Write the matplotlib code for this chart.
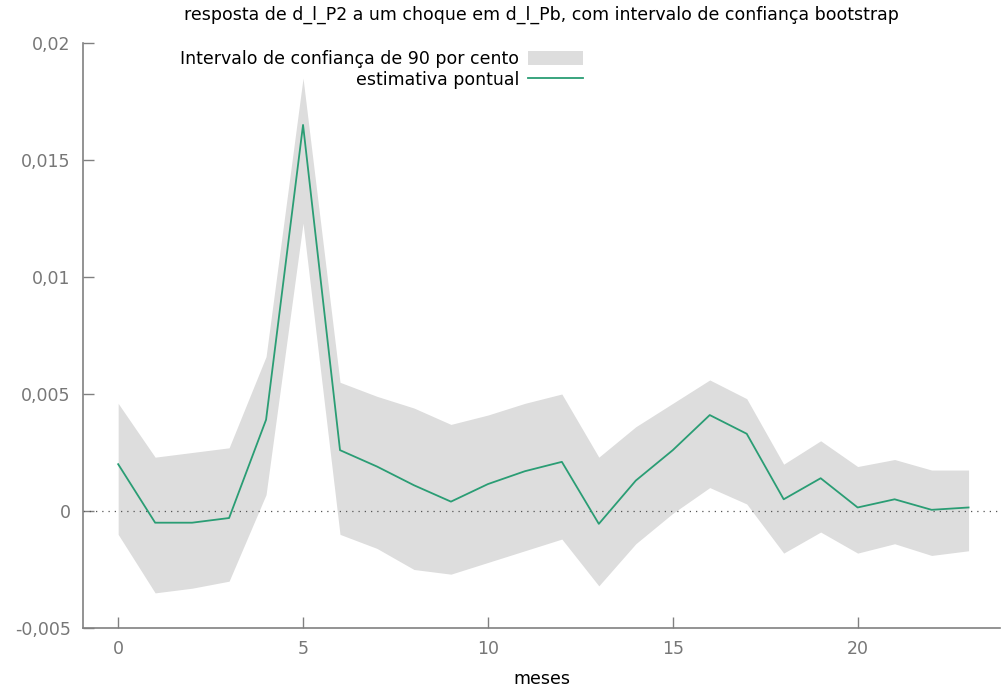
import matplotlib
matplotlib.use("Agg")
import matplotlib.pyplot as plt
from matplotlib.ticker import FuncFormatter
from matplotlib.patches import Patch
from matplotlib.lines import Line2D

# impulse response of d_l_P2 to a shock in d_l_Pb
meses = list(range(24))
estimativa = [0.0020, -0.0005, -0.0005, -0.0003, 0.0039, 0.0165, 0.0026, 0.0019,
              0.0011, 0.0004, 0.00115, 0.0017, 0.0021, -0.00055, 0.0013, 0.0026,
              0.0041, 0.0033, 0.0005, 0.0014, 0.00015, 0.0005, 0.00005, 0.00015]
superior = [0.0046, 0.0023, 0.0025, 0.0027, 0.0066, 0.0185, 0.0055, 0.0049,
            0.0044, 0.0037, 0.0041, 0.0046, 0.0050, 0.0023, 0.0036, 0.0046,
            0.0056, 0.0048, 0.0020, 0.0030, 0.0019, 0.0022, 0.00175, 0.00175]
inferior = [-0.0010, -0.0035, -0.0033, -0.0030, 0.0007, 0.0123, -0.0010, -0.0016,
            -0.0025, -0.0027, -0.0022, -0.0017, -0.0012, -0.0032, -0.0014, -0.0001,
            0.0010, 0.0003, -0.0018, -0.0009, -0.0018, -0.0014, -0.0019, -0.0017]

GREEN = "#2a9d74"
BAND = "#dddddd"
AXIS = "#808080"
FS = 12.5


def fmt(v, pos):
    s = f"{v:g}".replace(".", ",")
    return "0" if s in ("0", "-0") else s


fig = plt.figure(figsize=(10.03, 6.87), dpi=100)
ax = fig.add_axes([0.0828, 0.0859, 0.9142, 0.8515])

ax.fill_between(meses, inferior, superior, color=BAND, linewidth=0)
ax.axhline(0, color="#555555", linestyle=(0, (1, 4)), linewidth=0.9)
ax.plot(meses, estimativa, color=GREEN, linewidth=1.3)

ax.set_xlim(-0.95, 23.85)
ax.set_ylim(-0.005, 0.02)
ax.set_xticks([0, 5, 10, 15, 20])
ax.set_yticks([-0.005, 0, 0.005, 0.01, 0.015, 0.02])
ax.yaxis.set_major_formatter(FuncFormatter(fmt))

for side in ("top", "right"):
    ax.spines[side].set_visible(False)
for side in ("left", "bottom"):
    ax.spines[side].set_color(AXIS)
    ax.spines[side].set_linewidth(1.2)
ax.tick_params(direction="in", length=8, width=1, color=AXIS,
               labelcolor="#777777", labelsize=FS, pad=9)

ax.set_xlabel("meses", fontsize=FS, labelpad=8)
ax.set_title("resposta de d_l_P2 a um choque em d_l_Pb, com intervalo de confiança bootstrap",
             fontsize=FS, pad=17)

handles = [Patch(facecolor=BAND, edgecolor="none"), Line2D([], [], color=GREEN, linewidth=1.3)]
labels = ["Intervalo de confiança de 90 por cento", "estimativa pontual"]
ax.legend(handles, labels, loc="upper right", bbox_to_anchor=(0.553, 1.0),
          frameon=False, markerfirst=False, fontsize=FS, handlelength=3.2,
          handleheight=0.8, handletextpad=0.5, labelspacing=0.15, borderaxespad=0)

fig.savefig("out.png", dpi=100)
